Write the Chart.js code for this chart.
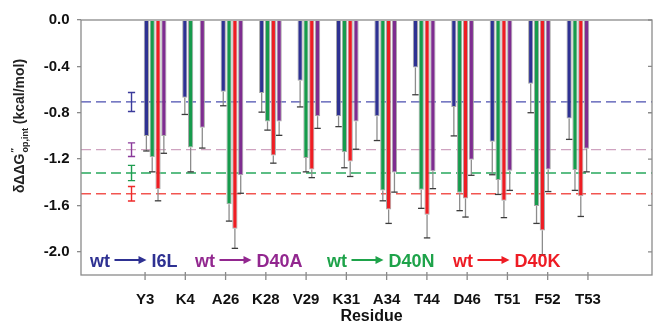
<!DOCTYPE html>
<html><head><meta charset="utf-8">
<script src="https://cdn.jsdelivr.net/npm/chart.js@4"></script>
<style>html,body{margin:0;padding:0;background:#fff}#wrap{width:655px;height:322px;position:relative}</style>
</head><body><div id="wrap"><canvas id="c"></canvas></div>
<script>
const residues = ['Y3','K4','A26','K28','V29','K31','A34','T44','D46','T51','F52','T53'];
const seriesNames = ['I6L','D40N','D40K','D40A'];
const i6l     = [-1.00,-0.67,-0.62,-0.63,-0.525,-0.83,-0.83,-0.41,-0.75,-1.05,-0.55,-0.85];
const i6lErr  = [0.13,0.145,0.12,0.165,0.225,0.09,0.21,0.235,0.25,0.285,0.25,0.18];
const d40n    = [-1.185,-1.10,-1.59,-0.875,-1.19,-1.14,-1.47,-1.465,-1.49,-1.38,-1.605,-1.295];
const d40nErr = [0.125,0.21,0.145,0.075,0.12,0.135,0.09,0.16,0.155,0.125,0.15,0.175];
const d40k    = [-1.46,null,-1.80,-1.17,-1.29,-1.22,-1.635,-1.68,-1.54,-1.56,-1.815,-1.52];
const d40kErr = [0.10,null,0.17,0.065,0.07,0.13,0.12,0.20,0.16,0.145,0.21,0.175];
const d40a    = [-1.00,-0.93,-1.34,-0.875,-0.83,-0.875,-1.315,-1.305,-1.205,-1.30,-1.29,-1.11];
const d40aErr = [0.15,0.175,0.155,0.12,0.105,0.24,0.17,0.15,0.135,0.17,0.19,0.20];
// wild-type reference levels (order: I6L, D40A, D40N, D40K)
const wtRefNames = ['I6L','D40A','D40N','D40K'];
const wtRef    = [-0.707,-1.119,-1.32,-1.499];
const wtRefErr = [0.082,0.059,0.066,0.063];
const yTicks = [0,-0.4,-0.8,-1.2,-1.6,-2.0];

const FONT = '"Liberation Sans", Arial, Helvetica, sans-serif';
const barColors = ['#2e3192','#169b4c','#ee1d23','#7e2d90'];
const refLineColors = {I6L:'#4b4fb0', D40A:'#cfa3c0', D40N:'#27a85c', D40K:'#f25550'};
const refBarColors  = {I6L:'#3b3b9b', D40A:'#8a3a9a', D40N:'#1f9d50', D40K:'#ee2a2a'};
const legendColors  = {I6L:'#2e3192', D40A:'#92278f', D40N:'#1ea34a', D40K:'#ee1c24'};
const legendX = [90, 195, 327, 453];

function mk(vals, errs, name, color) {
  return {
    label: name,
    data: vals.map((v, i) => ({x: i + 1, y: v})),
    errors: errs,
    backgroundColor: color,
    borderColor: '#a8a8a8',
    borderWidth: 1,
    borderSkipped: 'start',
    categoryPercentage: 0.606,
    barPercentage: 0.9
  };
}

const overlay = {
  id: 'overlay',
  beforeDatasetsDraw(chart) {
    const {ctx, chartArea: ca, scales: {x, y}} = chart;
    ctx.save();
    wtRefNames.forEach((n, k) => {
      const py = y.getPixelForValue(wtRef[k]);
      ctx.strokeStyle = refLineColors[n];
      ctx.lineWidth = 1.3;
      ctx.setLineDash([10, 5]);
      ctx.beginPath(); ctx.moveTo(ca.left, py); ctx.lineTo(ca.right, py); ctx.stroke();
      ctx.setLineDash([]);
      const px = x.getPixelForValue(0.386);
      const t = y.getPixelForValue(wtRef[k] + wtRefErr[k]);
      const b = y.getPixelForValue(wtRef[k] - wtRefErr[k]);
      ctx.strokeStyle = refBarColors[n];
      ctx.lineWidth = 1.4;
      ctx.beginPath();
      ctx.moveTo(px, t); ctx.lineTo(px, b);
      ctx.moveTo(px - 3.6, t); ctx.lineTo(px + 3.6, t);
      ctx.moveTo(px - 3.6, b); ctx.lineTo(px + 3.6, b);
      ctx.stroke();
    });
    ctx.restore();
  },
  afterDatasetsDraw(chart) {
    const {ctx, chartArea: ca, scales: {y, xl}} = chart;
    ctx.save();
    // error bars
    chart.data.datasets.forEach((ds, di) => {
      const meta = chart.getDatasetMeta(di);
      meta.data.forEach((bar, i) => {
        const v = ds.data[i].y, e = ds.errors[i];
        if (v == null || e == null) return;
        const y0 = y.getPixelForValue(v), y1 = y.getPixelForValue(v - e);
        ctx.strokeStyle = '#8c8c8c'; ctx.lineWidth = 1.3;
        ctx.beginPath(); ctx.moveTo(bar.x, y0); ctx.lineTo(bar.x, y1); ctx.stroke();
        ctx.strokeStyle = '#3c3c3c'; ctx.lineWidth = 1.3;
        ctx.beginPath(); ctx.moveTo(bar.x - 3.2, y1); ctx.lineTo(bar.x + 3.2, y1); ctx.stroke();
      });
    });
    // frame
    ctx.strokeStyle = '#8a8a8a'; ctx.lineWidth = 1.3;
    ctx.strokeRect(ca.left, ca.top, ca.right - ca.left, ca.bottom - ca.top);
    // inner right ticks
    ctx.beginPath();
    yTicks.forEach(v => { const py = y.getPixelForValue(v); ctx.moveTo(ca.right - 4, py); ctx.lineTo(ca.right, py); });
    // bottom ticks crossing axis
    residues.forEach((r, i) => { const px = xl.getPixelForValue(i + 1); ctx.moveTo(px, ca.bottom - 3); ctx.lineTo(px, ca.bottom + 5); });
    ctx.stroke();
    // legend
    ctx.font = 'bold 18px ' + FONT;
    ctx.textBaseline = 'alphabetic';
    wtRefNames.forEach((n, k) => {
      const c = legendColors[n];
      let xx = legendX[k];
      const by = 266.5, ay = 260;
      ctx.fillStyle = c; ctx.strokeStyle = c;
      ctx.textAlign = 'left';
      ctx.fillText('wt', xx, by);
      xx += ctx.measureText('wt').width + 4.5;
      const x2 = xx + 32;
      ctx.lineWidth = 2;
      ctx.beginPath(); ctx.moveTo(xx, ay); ctx.lineTo(x2 - 6, ay); ctx.stroke();
      ctx.beginPath(); ctx.moveTo(x2, ay); ctx.lineTo(x2 - 8, ay - 4); ctx.lineTo(x2 - 8, ay + 4); ctx.closePath(); ctx.fill();
      ctx.fillText(n, x2 + 5, by);
    });
    ctx.restore();
  },
  afterDraw(chart) {
    const {ctx} = chart;
    ctx.save();
    ctx.fillStyle = '#111';
    ctx.font = 'bold 16px ' + FONT;
    ctx.textAlign = 'center'; ctx.textBaseline = 'alphabetic';
    ctx.fillText('Residue', 371.5, 321);
    // y title
    ctx.translate(24, 126);
    ctx.rotate(-Math.PI / 2);
    const big = 'bold 14px ' + FONT, small = 'bold 9px ' + FONT;
    ctx.font = big; const w1 = ctx.measureText('δΔΔG').width; const w4 = ctx.measureText(' (kcal/mol)').width;
    ctx.font = small; const w2 = ctx.measureText('″').width; const w3 = ctx.measureText('op,int').width;
    const total = w1 + 1 + Math.max(w2, w3) + w4;
    let cx = -total / 2;
    ctx.textAlign = 'left'; ctx.fillStyle = '#222';
    ctx.font = big; ctx.fillText('δΔΔG', cx, 0); cx += w1 + 1;
    ctx.font = small; ctx.fillText('″', cx, -7); ctx.fillText('op,int', cx, 4);
    cx += Math.max(w2, w3);
    ctx.font = big; ctx.fillText(' (kcal/mol)', cx, 0);
    ctx.restore();
  }
};

new Chart(document.getElementById('c'), {
  type: 'bar',
  data: {
    datasets: [
      mk(i6l, i6lErr, seriesNames[0], barColors[0]),
      mk(d40n, d40nErr, seriesNames[1], barColors[1]),
      mk(d40k, d40kErr, seriesNames[2], barColors[2]),
      mk(d40a, d40aErr, seriesNames[3], barColors[3])
    ]
  },
  options: {
    responsive: true, maintainAspectRatio: false, animation: false,
    layout: {padding: {top: 20, right: 3, left: 0, bottom: 0}},
    plugins: {legend: {display: false}, tooltip: {enabled: false}},
    scales: {
      x: {type: 'linear', min: 0, max: 13, display: false},
      xl: {
        type: 'linear', position: 'bottom', min: 0, max: 13,
        afterBuildTicks: s => { s.ticks = residues.map((_, i) => ({value: i + 1})); },
        ticks: {callback: v => residues[v - 1] || '', font: {family: FONT, size: 15, weight: 'bold'}, color: '#111', padding: 8, maxRotation: 0, autoSkip: false},
        grid: {display: false},
        border: {display: false},
        afterFit: s => { s.height = 47; }
      },
      y: {
        min: -2.2, max: 0,
        afterBuildTicks: s => { s.ticks = yTicks.map(v => ({value: v})); },
        ticks: {callback: v => v.toFixed(1), font: {family: FONT, size: 15, weight: 'bold'}, color: '#111', padding: 7.5},
        grid: {drawOnChartArea: false, tickLength: 4, color: '#8a8a8a', lineWidth: 1.3},
        border: {display: false},
        afterFit: s => { s.width = 81; }
      }
    }
  },
  plugins: [overlay]
});
</script>
</body></html>
